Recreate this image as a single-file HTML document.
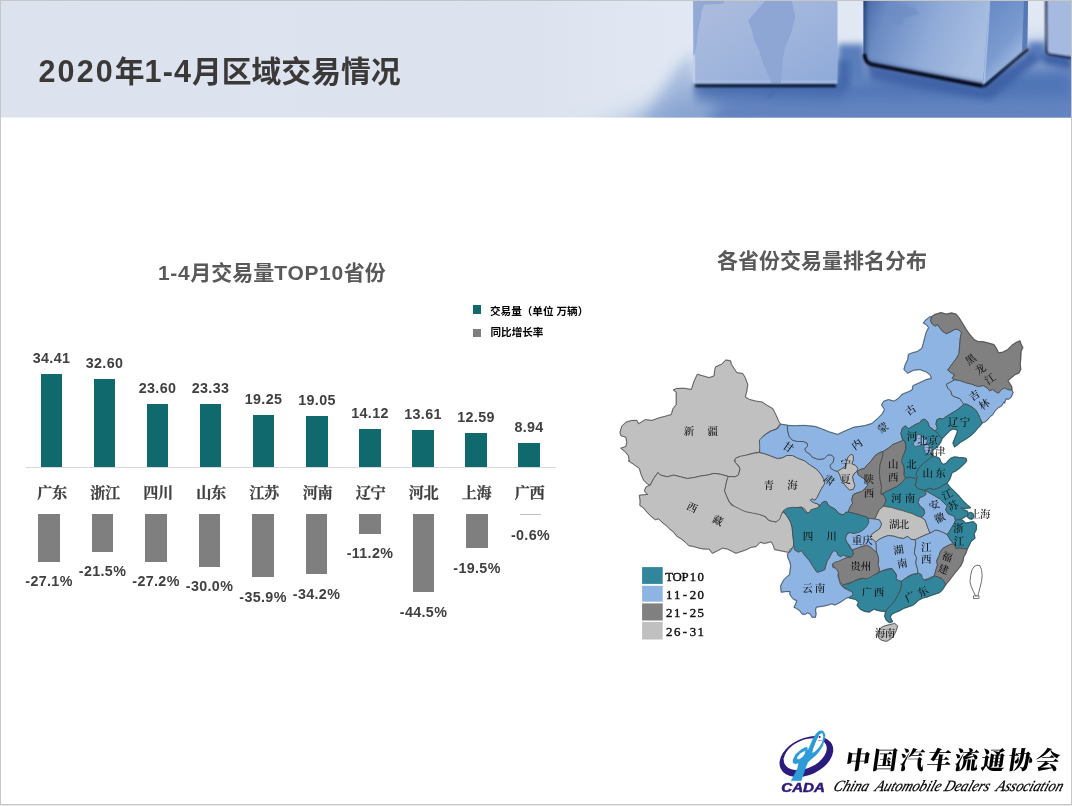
<!DOCTYPE html>
<html lang="zh-CN">
<head>
<meta charset="utf-8">
<title>2020年1-4月区域交易情况</title>
<style>
html,body{margin:0;padding:0;background:#fff;}
body{width:1072px;height:806px;position:relative;overflow:hidden;font-family:"Liberation Sans","Noto Sans CJK SC",sans-serif;}
#slide{position:absolute;left:0;top:0;width:1072px;height:806px;background:#fff;overflow:hidden;}
#hdr{position:absolute;left:0;top:0;}
#title{position:absolute;left:38.5px;top:51px;font-size:29.8px;font-weight:bold;color:#3b3838;white-space:nowrap;line-height:40px;}
.ct{position:absolute;font-weight:bold;color:#595959;white-space:nowrap;font-size:21px;line-height:28px;}
.vl{position:absolute;width:70px;text-align:center;font-weight:bold;font-size:14.3px;line-height:16px;color:#404040;white-space:nowrap;letter-spacing:0.35px;}
.cat{position:absolute;width:70px;text-align:center;font-family:"Liberation Serif","Noto Serif CJK SC",serif;font-weight:bold;font-size:15.2px;line-height:18px;color:#404040;white-space:nowrap;letter-spacing:-0.5px;-webkit-text-stroke:0.25px #404040;}
.tb{position:absolute;background:#0f696d;width:21.6px;}
.gb{position:absolute;background:#7f7f7f;width:21.6px;top:513.8px;}
.lg{position:absolute;font-size:10.6px;font-weight:bold;color:#000;white-space:nowrap;line-height:12px;}
.bd{position:absolute;background:#c6c6c6;}
#map{position:absolute;left:0;top:0;}
#logo{position:absolute;left:0;top:0;}
.l1{letter-spacing:2.1px;font-size:30.5px;}
.l2{letter-spacing:0.65px;}
</style>
</head>
<body>
<div id="slide">
<svg id="hdr" width="1072" height="118" viewBox="0 0 1072 118">
<defs>
<clipPath id="c2c"><path d="M863.5,0 L989,0 L983,84.5 L871,63.5 Q863.5,61.5 863.5,54 Z"/></clipPath>
<filter id="bl2" x="-10%" y="-50%" width="120%" height="200%"><feGaussianBlur stdDeviation="2.2"/></filter>
<clipPath id="hc"><rect x="0" y="0" width="1072" height="117.5"/></clipPath>
<filter id="bl14" x="-30%" y="-60%" width="160%" height="220%"><feGaussianBlur stdDeviation="14"/></filter>
<filter id="bl8" x="-30%" y="-60%" width="160%" height="220%"><feGaussianBlur stdDeviation="7"/></filter>
<filter id="bl3" x="-30%" y="-60%" width="160%" height="220%"><feGaussianBlur stdDeviation="3"/></filter>
<filter id="bl1" x="-10%" y="-100%" width="120%" height="300%"><feGaussianBlur stdDeviation="0.8"/></filter>
<filter id="bl05" x="-10%" y="-10%" width="120%" height="120%"><feGaussianBlur stdDeviation="0.6"/></filter>
<linearGradient id="bgL" x1="0" y1="0" x2="1" y2="0">
<stop offset="0" stop-color="#dde3ee"/><stop offset="0.5" stop-color="#dce3ef"/><stop offset="0.62" stop-color="#e1e8f3"/><stop offset="1" stop-color="#e2e9f5"/>
</linearGradient>
<linearGradient id="c1" x1="0" y1="0" x2="1" y2="1">
<stop offset="0" stop-color="#adbcde"/><stop offset="0.5" stop-color="#a0b5dc"/><stop offset="1" stop-color="#8eaad9"/>
</linearGradient>
<linearGradient id="c2f" x1="0" y1="0" x2="1" y2="0.25">
<stop offset="0" stop-color="#2b4884"/><stop offset="0.04" stop-color="#4d6eac"/><stop offset="0.2" stop-color="#6b8bc3"/><stop offset="0.6" stop-color="#90abd8"/><stop offset="1" stop-color="#a7bde1"/>
</linearGradient>
<linearGradient id="c2r" x1="0" y1="0" x2="0.6" y2="1">
<stop offset="0" stop-color="#6487c4"/><stop offset="0.6" stop-color="#7b9bd0"/><stop offset="1" stop-color="#b4c8e8"/>
</linearGradient>
<linearGradient id="sh1" x1="0" y1="0" x2="0" y2="1">
<stop offset="0" stop-color="#3a5fa4"/><stop offset="1" stop-color="#5a7ebb" stop-opacity="0"/>
</linearGradient>
</defs>
<g clip-path="url(#hc)">
<rect x="0" y="0" width="1072" height="118" fill="url(#bgL)"/>
<!-- blue floor -->
<polygon points="575,145 650,114 705,84 840,66 1072,44 1100,44 1100,145" fill="#8aa5d3" filter="url(#bl14)"/>
<polygon points="690,145 722,100 840,86 1072,72 1100,72 1100,145" fill="#6384c0" filter="url(#bl8)"/>
<polygon points="700,86 1072,68 1072,97 705,99" fill="#4a6fb2" filter="url(#bl8)" opacity="0.75"/>
<polygon points="838,44 864,44 866,84 838,84" fill="#5a7ebc" filter="url(#bl3)"/>
<polygon points="838,60 850,60 850,88 838,88" fill="#3f64a8" filter="url(#bl3)" opacity="0.8"/>
<polygon points="1028,42 1046,42 1046,62 1028,62" fill="#5a7ebc" filter="url(#bl3)"/>
<polygon points="640,125 676,70 694,52 694,125" fill="#7f9dce" opacity="0.55" filter="url(#bl8)"/>
<!-- cube 1 shadow -->
<rect x="694" y="84" width="150" height="26" fill="url(#sh1)" filter="url(#bl3)"/>
<!-- cube 1 -->
<rect x="693" y="0" width="144.5" height="84.5" rx="2" fill="url(#c1)"/>
<rect x="693" y="0" width="2.2" height="83" fill="#c3d1ea" opacity="0.9"/>
<rect x="694" y="80.5" width="142" height="3" fill="#b0c4e6" opacity="0.55" filter="url(#bl05)"/>
<polygon points="764.9,1 754.6,13.1 748.1,20.5 751.8,29.9 753.7,39.2 759.3,50.4 762.1,61.6 766.8,71.8 771.4,83 780.7,83 782.2,70.9 782.6,59.7 785.4,46.6 791,33.6 795.3,16.8 791.9,1" fill="#8ca5d3" opacity="0.9" filter="url(#bl05)"/>
<polygon points="693,1 724.8,1 722.9,3.7 704.3,4.7 701.5,11.2 700.5,20.5 697.7,31.7 696.8,42.9 694.9,54.1 693.4,56" fill="#8ca5d3" opacity="0.8" filter="url(#bl05)"/>
<polygon points="771,88 778,88 772,97 767,100" fill="#456aac" opacity="0.5" filter="url(#bl1)"/>
<rect x="695" y="84.3" width="141" height="2.8" fill="#050d26" filter="url(#bl1)"/>
<!-- cube 2 shadow -->
<polygon points="864,60 982,88 1030,50 1040,60 990,100 870,80" fill="#3c61a5" filter="url(#bl3)" opacity="0.9"/>
<!-- cube 2 -->
<path d="M863.5,0 L989,0 L983,84.5 L871,63.5 Q863.5,61.5 863.5,54 Z" fill="url(#c2f)"/>
<g clip-path="url(#c2c)"><path d="M862,0 L862,58 Q863,65 871,66 L984,87" stroke="#1a3266" stroke-width="7" fill="none" filter="url(#bl2)" opacity="0.75"/></g>
<path d="M989,0 L1028,0 L1027.3,47 L984.5,84 Q983,85 983,84.5 Z" fill="url(#c2r)"/>
<path d="M984,84 L988,30 L989.5,0" stroke="#b9cceb" stroke-width="1.6" fill="none" opacity="0.7" filter="url(#bl05)"/>
<path d="M1024,0 L1028,0 L1027.3,47 L1022,51 Z" fill="#4d70af" opacity="0.8" filter="url(#bl05)"/>
<polygon points="884,4 900,3 915,8 920,14 905,18 900,26 893,24 888,14" fill="#6a8bc2" opacity="0.55" filter="url(#bl1)"/>
<path d="M864.5,54 Q864.5,62 871,64.3 L982.5,86" stroke="#02060f" stroke-width="3.4" fill="none" filter="url(#bl1)"/>
<path d="M982.5,86 Q984,86.5 986,85 L1028,49" stroke="#050d24" stroke-width="2.4" fill="none" filter="url(#bl1)"/>
<path d="M864,0 L864,56" stroke="#1c3266" stroke-width="1.2" fill="none" filter="url(#bl05)"/>
<!-- cube 3 -->
<polygon points="1040,52 1072,56 1072,70 1044,64" fill="#3c61a5" filter="url(#bl3)"/>
<polygon points="1046,0 1072,0 1072,57.5 1047.5,54" fill="#a6badf"/>
<path d="M1046,0 L1046.3,50 Q1046.5,54 1050,54.6 L1072,58" stroke="#0c1a3e" stroke-width="1.8" fill="none" filter="url(#bl1)"/>
</g>
</svg>
<div id="title"><span class="l1">2020</span>年<span class="l1" style="letter-spacing:1.1px">1-4</span>月区域交易情况</div>
<div class="ct" style="left:158px;top:259px;"><span class="l2">1-4</span>月交易量<span class="l2">TOP10</span>省份</div>
<div class="ct" style="left:717px;top:247px;">各省份交易量排名分布</div>
<div style="position:absolute;left:473px;top:305px;width:8px;height:9px;background:#0f696d;"></div>
<div class="lg" style="left:490px;top:305.3px;">交易量（单位 万辆）</div>
<div style="position:absolute;left:473px;top:329px;width:8px;height:8px;background:#7f7f7f;"></div>
<div class="lg" style="left:490.5px;top:326px;">同比增长率</div>
<div style="position:absolute;left:25.5px;top:467px;width:530px;height:1px;background:#d9d9d9;"></div>
<div class="tb" style="left:41px;top:374px;width:21px;height:93px;"></div>
<div class="vl" style="left:16.5px;top:349.7px;">34.41</div>
<div class="cat" style="left:16.9px;top:484px;">广东</div>
<div class="gb" style="left:38px;top:514px;width:22px;height:48px;"></div>
<div class="vl" style="left:14.0px;top:573.2px;">-27.1%</div>
<div class="tb" style="left:94px;top:379px;width:21px;height:88px;"></div>
<div class="vl" style="left:69.5px;top:354.7px;">32.60</div>
<div class="cat" style="left:69.9px;top:484px;">浙江</div>
<div class="gb" style="left:92px;top:514px;width:21px;height:38px;"></div>
<div class="vl" style="left:67.5px;top:563.3px;">-21.5%</div>
<div class="tb" style="left:147px;top:404px;width:21px;height:63px;"></div>
<div class="vl" style="left:122.5px;top:379.7px;">23.60</div>
<div class="cat" style="left:122.9px;top:484px;">四川</div>
<div class="gb" style="left:145px;top:514px;width:22px;height:48px;"></div>
<div class="vl" style="left:121.0px;top:573.3px;">-27.2%</div>
<div class="tb" style="left:200px;top:404px;width:21px;height:63px;"></div>
<div class="vl" style="left:175.5px;top:379.7px;">23.33</div>
<div class="cat" style="left:175.9px;top:484px;">山东</div>
<div class="gb" style="left:199px;top:514px;width:21px;height:53px;"></div>
<div class="vl" style="left:174.5px;top:578.2px;">-30.0%</div>
<div class="tb" style="left:253px;top:415px;width:21px;height:52px;"></div>
<div class="vl" style="left:228.5px;top:390.7px;">19.25</div>
<div class="cat" style="left:228.9px;top:484px;">江苏</div>
<div class="gb" style="left:252px;top:514px;width:22px;height:63px;"></div>
<div class="vl" style="left:228.0px;top:588.6px;">-35.9%</div>
<div class="tb" style="left:306px;top:416px;width:22px;height:51px;"></div>
<div class="vl" style="left:282.0px;top:391.7px;">19.05</div>
<div class="cat" style="left:282.4px;top:484px;">河南</div>
<div class="gb" style="left:306px;top:514px;width:21px;height:60px;"></div>
<div class="vl" style="left:281.5px;top:585.6px;">-34.2%</div>
<div class="tb" style="left:359px;top:429px;width:22px;height:38px;"></div>
<div class="vl" style="left:335.0px;top:404.7px;">14.12</div>
<div class="cat" style="left:335.4px;top:484px;">辽宁</div>
<div class="gb" style="left:359px;top:514px;width:22px;height:20px;"></div>
<div class="vl" style="left:335.0px;top:545.3px;">-11.2%</div>
<div class="tb" style="left:412px;top:430px;width:22px;height:37px;"></div>
<div class="vl" style="left:388.0px;top:405.7px;">13.61</div>
<div class="cat" style="left:388.4px;top:484px;">河北</div>
<div class="gb" style="left:413px;top:514px;width:21px;height:78px;"></div>
<div class="vl" style="left:388.5px;top:603.7px;">-44.5%</div>
<div class="tb" style="left:465px;top:433px;width:22px;height:34px;"></div>
<div class="vl" style="left:441.0px;top:408.7px;">12.59</div>
<div class="cat" style="left:441.4px;top:484px;">上海</div>
<div class="gb" style="left:466px;top:514px;width:22px;height:34px;"></div>
<div class="vl" style="left:442.0px;top:559.8px;">-19.5%</div>
<div class="tb" style="left:518px;top:443px;width:22px;height:24px;"></div>
<div class="vl" style="left:494.0px;top:418.7px;">8.94</div>
<div class="cat" style="left:494.4px;top:484px;">广西</div>
<div style="position:absolute;left:520px;top:514px;width:21px;height:1px;background:#bfbfbf;"></div>
<div class="vl" style="left:495.5px;top:526.7px;">-0.6%</div>
<svg id="map" width="1072" height="806" viewBox="0 0 1072 806">
<g stroke-linejoin="round">
<path d="M620.1,432.3 L621.8,426.4 L626.0,422.2 L631.8,420.5 L636.9,420.5 L638.5,423.9 L645.3,419.7 L652.0,420.5 L658.7,418.0 L665.4,416.3 L671.3,414.6 L673.0,408.8 L676.3,404.6 L676.3,397.9 L676.3,392.0 L673.5,390.0 L676.3,388.6 L683.9,388.3 L691.4,389.5 L693.9,381.9 L697.3,374.3 L703.2,376.0 L709.1,377.7 L714.1,376.0 L714.9,369.3 L715.8,366.8 L721.7,364.3 L725.8,360.1 L730.6,360.9 L731.2,364.3 L735.1,370.1 L736.8,372.7 L742.6,373.5 L745.2,377.7 L747.7,384.4 L746.8,391.1 L745.2,397.0 L749.4,399.5 L756.1,401.2 L761.9,402.0 L767.0,405.4 L772.9,408.8 L776.2,415.5 L778.7,421.4 L780.4,423.9 L776.2,428.9 L769.5,431.4 L763.6,435.6 L759.9,440.7 L760.3,447.4 L759.4,452.1 L752.7,453.3 L744.3,455.8 L736.8,457.5 L734.2,460.8 L736.8,464.2 L740.1,468.4 L738.4,475.1 L735.1,476.8 L728.4,476.5 L720.8,474.3 L714.1,473.4 L707.4,475.1 L700.7,476.0 L693.9,477.6 L687.2,478.5 L680.5,476.8 L673.8,475.1 L667.1,476.8 L660.4,475.1 L657.9,472.6 L653.7,478.5 L650.3,485.2 L647.8,484.3 L643.6,480.1 L641.1,474.3 L639.4,468.4 L633.5,464.2 L628.5,460.8 L629.3,460.8 L628.5,455.8 L625.1,451.6 L620.9,448.2 L626.0,446.5 L626.8,442.3 L626.0,437.3 L620.9,435.6Z" fill="#c0c0c0" stroke="#c0c0c0" stroke-width="1.6"/>
<path d="M650.3,485.2 L653.7,478.5 L657.9,472.6 L660.4,475.1 L667.1,476.8 L673.8,475.1 L680.5,476.8 L687.2,478.5 L693.9,477.6 L700.7,476.0 L707.4,475.1 L714.1,473.4 L720.8,474.3 L728.4,476.5 L727.5,478.5 L726.7,481.0 L725.8,485.2 L724.7,491.1 L726.7,496.1 L729.2,502.0 L731.7,505.3 L737.6,507.0 L744.3,509.5 L751.0,512.0 L757.8,513.7 L764.5,516.2 L768.7,520.4 L776.2,522.1 L778.7,518.8 L781.3,514.6 L782.9,512.0 L784.6,513.1 L787.6,516.9 L790.6,522.1 L792.1,527.3 L792.8,534.8 L793.6,542.2 L793.6,547.5 L790.2,549.0 L789.1,552.3 L785.7,551.8 L780.2,550.6 L774.6,549.5 L773.4,545.6 L771.2,541.7 L764.5,543.4 L760.0,542.2 L756.1,546.5 L751.0,547.3 L746.0,549.8 L741.0,551.5 L735.9,553.2 L732.6,551.5 L727.5,549.0 L722.5,548.1 L717.5,550.7 L712.4,553.2 L709.1,549.0 L704.0,549.0 L699.0,548.1 L693.9,546.5 L688.9,545.6 L685.6,542.3 L681.4,538.9 L677.2,536.4 L673.8,532.2 L669.6,528.8 L666.2,525.5 L662.0,522.1 L658.7,518.8 L655.3,519.6 L651.1,516.2 L646.9,512.0 L643.6,507.9 L639.9,505.3 L640.2,501.1 L639.4,495.3 L647.8,494.4 L644.4,491.1 L646.1,486.9Z" fill="#c0c0c0" stroke="#c0c0c0" stroke-width="1.6"/>
<path d="M759.7,452.5 L765.7,454.0 L771.6,456.3 L777.6,458.5 L782.1,457.8 L786.6,455.5 L792.5,455.5 L798.5,458.5 L804.5,460.7 L810.4,465.2 L816.4,469.0 L820.9,474.2 L823.9,479.4 L824.6,483.9 L821.6,488.4 L819.4,492.8 L817.2,497.3 L814.9,500.3 L811.9,498.8 L810.4,500.3 L813.4,502.5 L817.9,504.0 L819.4,507.8 L816.4,508.5 L813.4,509.3 L811.2,512.2 L807.5,513.0 L804.5,508.5 L801.5,507.0 L795.5,507.8 L789.6,509.3 L782.8,511.5 L781.3,514.5 L779.9,519.0 L776.1,521.9 L771.6,521.2 L767.9,519.7 L765.7,516.7 L759.7,514.5 L752.2,513.0 L744.8,511.5 L738.8,508.5 L734.3,506.3 L729.3,501.9 L726.7,496.1 L724.6,491.0 L725.8,485.2 L726.7,481.0 L727.5,478.5 L728.4,476.5 L735.1,476.8 L738.4,475.1 L740.1,469.2 L738.8,466.0 L735.1,462.2 L735.1,458.5 L740.3,456.3 L747.8,454.8 L753.7,453.3Z" fill="#c0c0c0" stroke="#c0c0c0" stroke-width="1.6"/>
<path d="M780.6,424.2 L787.3,425.2 L787.6,430.3 L789.1,436.3 L792.1,440.0 L797.3,441.5 L803.3,441.5 L807.0,443.0 L807.8,446.0 L804.8,449.0 L806.3,451.9 L810.0,454.2 L812.2,457.2 L818.2,459.4 L824.2,458.7 L827.9,454.9 L831.6,454.9 L834.2,457.9 L833.1,462.4 L830.1,465.4 L830.9,468.4 L834.6,470.6 L837.6,471.3 L839.9,475.1 L841.3,479.6 L843.6,483.3 L846.6,487.0 L849.6,490.0 L853.3,489.3 L854.8,485.5 L853.3,481.0 L852.5,476.6 L854.0,473.6 L857.0,471.3 L858.5,475.1 L863.0,478.1 L866.7,481.0 L867.5,485.5 L864.5,489.3 L861.5,491.5 L857.0,493.0 L853.3,494.5 L851.8,499.0 L852.5,503.4 L849.6,507.9 L848.4,512.0 L845.6,512.4 L843.7,514.8 L840.9,514.3 L838.1,512.9 L836.2,510.1 L833.4,508.2 L830.6,506.8 L827.8,504.5 L826.9,502.2 L825.0,501.2 L822.2,502.6 L820.4,505.4 L817.9,504.0 L813.4,502.5 L810.4,500.3 L811.9,498.8 L814.9,500.3 L817.2,497.3 L819.4,492.8 L821.6,488.4 L824.6,483.9 L823.9,479.4 L820.9,474.2 L816.4,469.0 L810.4,465.2 L804.5,460.7 L798.5,458.5 L792.5,455.5 L786.6,455.5 L782.1,457.8 L777.6,458.5 L771.6,456.3 L765.7,454.0 L759.7,452.5 L759.7,446.6 L759.4,439.9 L761.9,437.6 L766.4,433.9 L771.6,430.9 L777.6,428.7Z" fill="#8db4e2" stroke="#8db4e2" stroke-width="1.6"/>
<path d="M787.6,425.5 L794.3,425.8 L804.8,425.5 L815.2,426.6 L821.2,428.8 L828.7,431.8 L837.6,434.5 L845.1,431.0 L854.0,427.3 L864.5,425.8 L871.9,423.6 L877.9,418.4 L882.4,413.9 L884.6,409.4 L881.6,404.9 L883.9,401.2 L888.4,399.7 L894.3,401.2 L898.8,398.2 L901.8,394.5 L909.3,391.5 L912.2,390.0 L913.0,385.8 L919.7,382.8 L925.7,379.9 L931.6,378.4 L930.1,374.6 L925.7,371.6 L919.7,369.4 L913.7,370.1 L907.8,373.1 L904.0,369.4 L905.5,364.2 L907.8,359.7 L908.5,354.5 L912.2,353.0 L917.5,351.5 L921.9,348.5 L923.4,343.3 L924.9,337.3 L926.4,332.1 L928.7,327.6 L926.4,324.6 L923.4,323.1 L925.7,320.1 L929.4,317.2 L931.3,316.7 L930.6,320.9 L932.1,323.9 L935.1,326.1 L937.3,324.6 L939.6,327.6 L942.5,331.3 L946.3,333.6 L951.5,331.3 L955.2,329.1 L959.0,329.9 L961.5,332.8 L960.4,337.3 L959.7,344.8 L959.0,353.7 L956.0,359.0 L951.5,364.9 L947.8,370.1 L951.5,373.1 L954.5,374.6 L952.2,378.4 L954.5,379.9 L949.3,382.8 L946.3,384.3 L947.8,388.1 L950.7,391.0 L952.2,395.5 L955.2,397.0 L959.7,398.5 L961.9,401.5 L964.2,403.7 L960.6,407.2 L956.9,410.1 L953.1,412.4 L949.4,414.6 L945.7,416.9 L942.7,419.1 L939.7,418.4 L936.7,419.9 L936.0,424.3 L937.5,428.1 L935.2,431.0 L932.2,428.8 L929.3,426.6 L927.8,422.1 L924.8,419.1 L921.8,419.9 L919.6,422.8 L915.8,424.3 L912.1,426.6 L908.4,428.8 L905.4,425.8 L902.4,428.1 L900.9,433.3 L902.4,439.3 L903.9,440.0 L898.8,442.2 L892.8,444.5 L888.4,448.2 L883.1,451.5 L879.4,452.7 L874.9,455.7 L871.2,460.9 L867.5,464.6 L864.5,468.4 L861.5,469.1 L857.0,471.3 L857.8,468.4 L855.5,465.4 L851.8,463.9 L853.3,460.1 L853.3,455.7 L851.0,454.2 L848.1,457.2 L846.6,461.6 L845.8,466.1 L841.3,469.1 L837.6,471.3 L834.6,470.6 L830.9,468.4 L830.1,465.4 L833.1,462.4 L834.2,457.9 L831.6,454.9 L827.9,454.9 L824.2,458.7 L818.2,459.4 L812.2,457.2 L810.0,454.2 L806.3,451.9 L804.8,449.0 L807.8,446.0 L807.0,443.0 L803.3,441.5 L797.3,441.5 L792.1,440.0 L789.1,436.3 L787.6,430.3Z" fill="#8db4e2" stroke="#8db4e2" stroke-width="1.6"/>
<path d="M931.8,316.7 L935.1,314.5 L941.0,312.7 L946.3,314.2 L951.5,313.1 L956.0,314.2 L959.0,317.9 L962.7,323.9 L966.4,329.9 L970.1,335.1 L973.9,339.6 L977.6,341.5 L982.8,341.8 L988.8,343.3 L994.0,344.8 L996.3,348.5 L998.5,353.0 L1003.0,352.2 L1007.5,350.0 L1011.9,345.5 L1016.4,342.5 L1019.9,341.0 L1020.9,344.0 L1022.7,347.5 L1020.9,351.5 L1020.6,358.2 L1020.1,364.2 L1020.6,369.4 L1018.7,373.1 L1014.9,374.6 L1011.2,377.6 L1007.8,380.6 L1009.7,383.6 L1011.6,386.6 L1011.9,390.3 L1007.5,389.6 L1004.5,388.1 L1001.5,389.6 L998.5,393.3 L995.5,391.8 L992.5,389.6 L989.6,391.0 L988.1,388.8 L983.6,385.8 L977.6,386.6 L971.6,384.3 L965.7,382.8 L959.7,380.6 L954.5,379.9 L952.2,378.4 L954.5,374.6 L951.5,373.1 L947.8,370.1 L951.5,364.9 L956.0,359.0 L959.0,353.7 L959.7,344.8 L960.4,337.3 L961.5,332.8 L959.0,329.9 L955.2,329.1 L951.5,331.3 L946.3,333.6 L942.5,331.3 L939.6,327.6 L937.3,324.6 L935.1,326.1 L932.1,323.9 L930.6,320.9Z" fill="#808080" stroke="#808080" stroke-width="1.6"/>
<path d="M954.5,379.9 L959.7,380.6 L965.7,382.8 L971.6,384.3 L977.6,386.6 L983.6,385.8 L988.1,388.8 L989.6,391.0 L992.5,389.6 L995.5,391.8 L998.5,393.3 L1001.5,389.6 L1004.5,388.1 L1007.5,389.6 L1011.9,390.3 L1013.0,392.5 L1011.2,397.0 L1008.2,399.3 L1006.0,398.5 L1004.5,403.0 L1003.9,401.9 L1001.6,405.7 L997.9,407.9 L994.9,410.9 L992.7,414.6 L989.7,416.9 L987.5,419.9 L984.5,422.1 L982.2,422.8 L980.0,418.4 L978.5,414.6 L976.3,410.9 L973.3,407.9 L969.6,405.7 L966.6,404.2 L963.6,404.2 L961.9,401.5 L959.7,398.5 L955.2,397.0 L952.2,395.5 L950.7,391.0 L947.8,388.1 L946.3,384.3 L949.3,382.8Z" fill="#8db4e2" stroke="#8db4e2" stroke-width="1.6"/>
<path d="M963.6,404.2 L966.6,404.2 L969.6,405.7 L973.3,407.9 L976.3,410.9 L978.5,414.6 L980.0,418.4 L982.2,422.8 L980.0,425.8 L977.0,428.8 L974.0,432.5 L969.6,436.3 L965.1,439.3 L961.3,441.5 L957.6,444.5 L954.6,446.7 L953.1,443.0 L954.6,439.3 L956.1,435.5 L957.6,431.8 L956.9,429.6 L953.1,428.8 L950.1,430.3 L947.2,433.3 L944.2,436.3 L941.9,438.5 L939.7,436.3 L937.5,433.3 L935.2,431.0 L937.5,428.1 L936.0,424.3 L936.7,419.9 L939.7,418.4 L942.7,419.1 L945.7,416.9 L949.4,414.6 L953.1,412.4 L956.9,410.1 L960.6,407.2Z" fill="#31869b" stroke="#31869b" stroke-width="1.6"/>
<path d="M837.6,471.3 L841.3,469.1 L845.8,466.1 L846.6,461.6 L848.1,457.2 L851.0,454.2 L853.3,455.7 L853.3,460.1 L851.8,463.9 L855.5,465.4 L857.8,468.4 L857.0,471.3 L854.0,473.6 L852.5,476.6 L853.3,481.0 L854.8,485.5 L853.3,489.3 L849.6,490.0 L846.6,487.0 L843.6,483.3 L841.3,479.6 L839.9,475.1Z" fill="#c0c0c0" stroke="#c0c0c0" stroke-width="1.6"/>
<path d="M857.0,471.3 L861.5,469.1 L864.5,468.4 L867.5,464.6 L871.2,460.9 L874.9,455.7 L879.4,452.7 L883.1,451.5 L882.4,457.2 L880.1,464.6 L879.4,472.1 L880.1,479.6 L881.6,487.0 L880.9,493.0 L881.6,494.5 L882.4,493.0 L884.6,496.7 L886.1,500.4 L884.6,504.2 L882.4,507.2 L879.4,509.4 L877.2,513.9 L874.9,519.1 L868.2,518.4 L867.0,517.1 L863.3,516.2 L859.6,514.8 L855.8,513.8 L852.1,512.9 L848.4,512.0 L849.6,507.9 L852.5,503.4 L851.8,499.0 L853.3,494.5 L857.0,493.0 L861.5,491.5 L864.5,489.3 L867.5,485.5 L866.7,481.0 L863.0,478.1 L858.5,475.1Z" fill="#808080" stroke="#808080" stroke-width="1.6"/>
<path d="M883.1,451.5 L888.4,448.2 L892.8,444.5 L898.8,442.2 L904.0,440.0 L905.5,443.7 L905.5,449.7 L903.3,455.7 L901.8,461.6 L904.0,467.6 L904.0,473.6 L905.5,478.1 L901.8,482.5 L897.3,486.3 L891.3,489.3 L886.1,491.5 L881.6,494.5 L880.9,493.0 L881.6,487.0 L880.1,479.6 L879.4,472.1 L880.1,464.6 L882.4,457.2Z" fill="#808080" stroke="#808080" stroke-width="1.6"/>
<path d="M935.2,431.0 L932.2,428.8 L929.3,426.6 L927.8,422.1 L924.8,419.1 L921.8,419.9 L919.6,422.8 L915.8,424.3 L912.1,426.6 L908.4,428.8 L905.4,425.8 L902.4,428.1 L900.9,433.3 L902.4,439.3 L903.9,440.0 L905.4,442.2 L906.1,448.2 L904.6,452.7 L902.4,457.2 L901.6,461.6 L903.9,466.1 L904.6,470.6 L903.9,475.1 L905.4,477.3 L909.9,477.3 L913.6,478.1 L916.6,478.8 L918.0,477.2 L916.1,475.3 L916.6,472.5 L918.0,469.7 L919.9,466.9 L922.6,464.1 L925.4,461.8 L928.7,459.4 L931.5,457.1 L932.9,453.8 L932.4,450.1 L933.8,449.2 L937.1,446.8 L939.0,444.5 L940.8,441.7 L941.9,438.5 L939.7,436.3 L937.5,433.3Z" fill="#31869b" stroke="#31869b" stroke-width="1.6"/>
<path d="M917.1,434.3 L920.8,434.7 L922.2,437.1 L925.4,438.0 L927.3,440.8 L926.8,443.6 L924.5,445.0 L921.7,444.5 L918.9,445.9 L915.2,446.4 L913.3,445.0 L913.8,442.2 L916.1,440.8 L916.6,437.5Z" fill="#8db4e2" stroke="#8db4e2" stroke-width="1.6"/>
<path d="M924.0,445.0 L927.3,444.5 L929.2,446.4 L931.0,448.2 L932.4,450.1 L931.5,452.4 L930.1,454.3 L927.3,453.8 L925.0,452.4 L924.0,449.2Z" fill="#8db4e2" stroke="#8db4e2" stroke-width="1.6"/>
<path d="M931.5,457.1 L935.7,456.6 L939.4,458.5 L940.8,462.2 L943.2,464.6 L946.0,463.6 L948.3,460.8 L950.6,458.5 L954.4,457.1 L959.0,457.6 L963.7,458.0 L966.0,458.5 L966.5,460.8 L964.6,463.2 L961.8,466.0 L959.0,468.3 L955.3,471.1 L952.0,472.5 L951.1,475.3 L949.7,479.0 L947.8,481.8 L946.0,484.6 L944.2,484.5 L939.7,487.5 L933.7,489.7 L929.3,488.2 L924.8,490.4 L918.8,489.0 L915.1,486.0 L916.6,478.8 L918.0,477.2 L916.1,475.3 L916.6,472.5 L918.0,469.7 L919.9,466.9 L922.6,464.1 L925.4,461.8 L928.7,459.4Z" fill="#31869b" stroke="#31869b" stroke-width="1.6"/>
<path d="M881.6,494.5 L886.1,491.5 L891.3,489.3 L897.3,486.3 L901.8,482.5 L905.5,478.1 L909.9,477.3 L913.6,478.1 L916.6,478.8 L915.1,486.0 L918.8,489.0 L924.8,490.4 L926.3,494.2 L923.3,496.4 L919.6,497.9 L918.1,502.4 L920.3,506.1 L924.0,509.1 L924.8,512.8 L923.3,515.8 L921.0,517.3 L916.6,515.8 L912.1,513.6 L906.9,512.1 L902.4,510.6 L896.4,509.1 L891.9,507.6 L887.5,506.9 L883.0,506.1 L882.4,507.2 L884.6,504.2 L886.1,500.4 L884.6,496.7 L882.4,493.0Z" fill="#31869b" stroke="#31869b" stroke-width="1.6"/>
<path d="M882.4,507.2 L883.0,506.1 L887.5,506.9 L891.9,507.6 L896.4,509.1 L902.4,510.6 L906.9,512.1 L912.1,513.6 L916.6,515.8 L921.0,517.3 L924.8,519.6 L926.3,523.3 L927.8,527.8 L930.0,533.0 L924.8,535.2 L919.6,537.5 L915.1,539.7 L910.7,539.3 L907.8,536.3 L903.3,538.5 L898.8,537.8 L894.3,536.3 L888.4,535.5 L883.9,537.0 L879.4,539.3 L875.7,542.2 L873.4,540.0 L870.4,537.8 L871.2,534.8 L874.9,531.8 L879.4,528.8 L881.6,524.3 L879.4,519.9 L874.9,519.1 L877.2,513.9 L879.4,509.4Z" fill="#c0c0c0" stroke="#c0c0c0" stroke-width="1.6"/>
<path d="M875.7,542.2 L879.4,539.3 L883.9,537.0 L888.4,535.5 L894.3,536.3 L898.8,537.8 L903.3,538.5 L907.8,536.3 L910.7,539.3 L915.1,539.7 L915.8,542.7 L915.1,547.9 L914.3,553.1 L916.6,557.6 L915.8,562.8 L917.3,568.1 L918.1,573.3 L912.2,574.3 L907.8,576.6 L904.0,579.6 L901.0,581.3 L898.1,580.7 L895.8,578.8 L896.6,575.1 L894.3,571.3 L891.3,568.4 L886.9,569.1 L882.4,570.6 L878.7,572.1 L879.4,569.1 L877.9,564.6 L878.7,560.1 L877.9,555.7 L876.4,551.9 L876.1,546.7Z" fill="#8db4e2" stroke="#8db4e2" stroke-width="1.6"/>
<path d="M930.0,533.0 L933.0,531.5 L935.2,530.0 L939.0,530.7 L942.7,532.2 L947.2,534.5 L950.1,539.7 L953.9,544.2 L950.9,544.2 L947.9,545.7 L943.4,547.9 L940.4,551.6 L939.0,556.1 L936.7,560.6 L937.5,565.1 L936.0,569.6 L934.3,575.8 L931.5,577.0 L927.8,578.5 L924.0,580.0 L921.8,578.5 L919.6,574.8 L918.1,573.3 L917.3,568.1 L915.8,562.8 L916.6,557.6 L914.3,553.1 L915.1,547.9 L915.8,542.7 L915.1,539.7 L919.6,537.5 L924.8,535.2Z" fill="#8db4e2" stroke="#8db4e2" stroke-width="1.6"/>
<path d="M924.8,490.4 L929.3,492.7 L934.5,495.7 L939.7,498.7 L943.4,502.4 L947.2,506.1 L945.7,509.9 L947.9,513.6 L951.6,515.1 L954.6,516.6 L955.4,520.3 L953.9,524.0 L951.6,527.8 L949.4,531.5 L947.2,534.5 L942.7,532.2 L939.0,530.7 L935.2,530.0 L933.0,531.5 L930.0,533.0 L927.8,527.8 L926.3,523.3 L924.8,519.6 L921.0,517.3 L923.3,515.8 L924.8,512.8 L924.0,509.1 L920.3,506.1 L918.1,502.4 L919.6,497.9 L923.3,496.4 L926.3,494.2Z" fill="#8db4e2" stroke="#8db4e2" stroke-width="1.6"/>
<path d="M924.8,490.4 L929.3,488.2 L933.7,489.7 L939.7,487.5 L944.2,484.5 L947.2,483.7 L950.1,487.5 L954.6,491.9 L959.1,496.4 L962.8,500.9 L966.6,504.6 L970.3,507.6 L965.1,508.4 L960.6,507.6 L963.6,509.9 L967.3,511.3 L968.1,513.6 L966.6,515.8 L963.6,517.6 L959.9,519.6 L955.4,520.3 L954.6,516.6 L951.6,515.1 L947.9,513.6 L945.7,509.9 L947.2,506.1 L943.4,502.4 L939.7,498.7 L934.5,495.7 L929.3,492.7Z" fill="#31869b" stroke="#31869b" stroke-width="1.6"/>
<path d="M955.4,520.3 L959.9,519.6 L962.8,520.6 L965.8,523.3 L969.6,522.5 L973.3,521.8 L976.3,524.8 L976.3,529.3 L974.0,533.7 L974.8,538.2 L971.0,541.2 L969.6,544.2 L967.3,548.7 L963.6,548.7 L959.1,547.9 L956.1,548.7 L953.9,544.2 L950.1,539.7 L947.2,534.5 L949.4,531.5 L951.6,527.8 L953.9,524.0Z" fill="#31869b" stroke="#31869b" stroke-width="1.6"/>
<path d="M968.1,513.6 L970.3,512.5 L972.8,513.6 L973.7,516.6 L971.8,519.1 L969.3,518.5 L967.3,516.6Z" fill="#31869b" stroke="#31869b" stroke-width="1.6"/>
<path d="M953.9,544.2 L956.1,548.7 L959.1,547.9 L963.6,548.7 L967.3,548.7 L965.8,553.1 L963.6,556.9 L962.8,561.3 L960.6,565.8 L957.6,569.6 L954.6,573.3 L951.6,577.0 L949.4,580.0 L945.5,584.8 L943.9,581.6 L941.5,578.4 L938.1,577.2 L934.3,575.8 L936.0,569.6 L937.5,565.1 L936.7,560.6 L939.0,556.1 L940.4,551.6 L943.4,547.9 L947.9,545.7 L950.9,544.2Z" fill="#808080" stroke="#808080" stroke-width="1.6"/>
<path d="M901.3,581.6 L904.3,579.1 L908.1,576.9 L912.5,574.6 L917.0,573.9 L918.5,573.1 L921.5,574.6 L922.2,577.6 L924.5,580.6 L927.5,579.9 L931.2,578.4 L934.3,575.8 L938.1,577.2 L941.5,578.4 L943.9,581.6 L945.5,584.8 L942.4,589.6 L939.4,592.5 L934.9,594.0 L930.4,595.5 L926.7,597.0 L923.0,597.8 L918.5,600.0 L915.5,603.0 L912.5,605.2 L908.1,606.7 L903.6,608.2 L899.9,610.4 L896.1,611.9 L891.6,614.2 L890.1,617.2 L891.6,620.1 L892.4,621.6 L889.4,622.4 L886.4,620.1 L884.9,616.4 L885.7,611.2 L887.9,608.2 L891.6,604.5 L894.6,600.7 L897.6,595.5 L899.9,591.0 L901.3,585.8Z" fill="#31869b" stroke="#31869b" stroke-width="1.6"/>
<path d="M840.1,585.8 L844.6,584.3 L849.9,583.6 L855.1,580.6 L860.3,579.1 L866.3,577.6 L871.5,575.4 L876.7,573.9 L879.0,572.4 L882.7,570.9 L887.9,569.4 L892.4,568.7 L894.6,572.4 L896.4,575.4 L896.1,579.1 L899.1,580.6 L901.3,581.6 L901.3,585.8 L899.9,591.0 L897.6,595.5 L894.6,600.7 L891.6,604.5 L887.9,608.2 L885.7,611.2 L882.7,611.2 L878.2,610.4 L873.7,609.0 L869.3,611.9 L864.8,611.2 L860.3,609.0 L857.3,605.2 L858.8,602.2 L855.8,599.3 L852.1,598.5 L849.1,597.8 L852.1,594.8 L852.8,592.5 L848.4,589.6 L843.9,587.3Z" fill="#31869b" stroke="#31869b" stroke-width="1.6"/>
<path d="M852.5,549.7 L857.0,548.2 L863.0,546.0 L867.5,545.2 L871.2,547.5 L874.2,550.4 L876.4,551.9 L877.9,555.7 L878.7,560.1 L877.9,564.6 L879.4,569.1 L878.7,572.1 L874.9,574.3 L870.4,577.3 L866.0,578.8 L861.5,578.1 L857.0,579.6 L852.5,581.8 L848.1,583.3 L843.6,584.8 L840.6,583.3 L839.4,580.3 L838.8,576.6 L837.6,572.1 L835.4,569.1 L833.1,566.1 L832.7,563.1 L835.4,561.3 L839.1,560.1 L842.8,558.7 L847.3,557.5 L851.0,557.2 L853.3,554.2Z" fill="#808080" stroke="#808080" stroke-width="1.6"/>
<path d="M868.2,518.4 L868.2,522.1 L866.0,525.8 L863.0,529.6 L858.5,531.8 L854.0,533.3 L849.6,532.5 L846.6,534.8 L845.1,538.5 L846.6,542.2 L849.6,545.2 L851.0,549.0 L852.5,549.7 L857.0,548.2 L863.0,546.0 L867.5,545.2 L871.2,547.5 L874.2,550.4 L876.4,551.9 L876.1,546.7 L875.7,542.2 L873.4,540.0 L870.4,537.8 L871.2,534.8 L874.9,531.8 L879.4,528.8 L881.6,524.3 L879.4,519.9 L874.9,519.1Z" fill="#8db4e2" stroke="#8db4e2" stroke-width="1.6"/>
<path d="M783.1,511.0 L786.8,508.2 L792.4,507.3 L798.0,507.5 L801.2,507.3 L803.6,510.1 L806.4,513.4 L809.2,512.4 L811.0,509.6 L814.8,508.7 L818.5,507.3 L820.4,505.4 L822.2,502.6 L825.0,501.2 L826.9,502.2 L827.8,504.5 L830.6,506.8 L833.4,508.2 L836.2,510.1 L838.1,512.9 L840.9,514.3 L843.7,514.8 L845.6,512.4 L848.4,512.0 L852.1,512.9 L855.8,513.8 L859.6,514.8 L863.3,516.2 L867.0,517.1 L868.4,519.4 L868.9,522.2 L867.0,526.0 L865.1,528.3 L862.4,530.6 L858.6,532.5 L854.0,533.4 L850.2,532.5 L847.4,533.4 L846.0,536.2 L845.6,539.0 L847.0,542.3 L848.4,545.0 L851.0,549.0 L852.5,549.7 L853.3,554.2 L851.0,557.2 L843.4,555.1 L840.6,556.8 L837.8,555.1 L836.7,551.8 L833.9,550.6 L831.6,553.4 L830.0,556.8 L827.2,561.3 L826.0,565.2 L824.9,569.7 L821.0,571.3 L817.1,572.5 L814.9,569.7 L812.1,565.2 L809.3,560.7 L805.9,556.8 L803.1,553.4 L802.0,550.6 L798.6,552.3 L794.7,550.1 L793.6,545.6 L793.6,542.2 L792.8,534.8 L792.1,527.3 L790.6,522.1 L787.6,516.9 L784.6,513.1Z" fill="#31869b" stroke="#31869b" stroke-width="1.6"/>
<path d="M793.6,545.6 L794.7,550.1 L798.6,552.3 L802.0,550.6 L803.1,553.4 L805.9,556.8 L809.3,560.7 L812.1,565.2 L814.9,569.7 L817.1,572.5 L821.0,571.3 L824.9,569.7 L826.0,565.2 L827.2,561.3 L830.0,556.8 L831.6,553.4 L833.9,550.6 L836.7,551.8 L837.8,555.1 L840.6,556.8 L843.4,555.1 L847.3,557.5 L842.8,559.3 L838.4,561.3 L834.4,562.4 L832.2,564.1 L832.8,567.4 L836.1,568.5 L838.4,572.5 L837.8,575.8 L838.9,579.2 L840.0,583.1 L840.6,584.8 L844.0,588.1 L848.4,590.4 L852.4,592.1 L852.9,594.9 L849.6,597.1 L846.2,598.2 L842.8,600.5 L838.4,603.2 L835.0,604.9 L831.6,603.8 L828.3,604.9 L823.8,606.0 L819.3,606.6 L816.0,607.2 L815.4,610.5 L816.0,613.9 L815.4,617.2 L812.1,617.2 L810.4,613.9 L807.6,612.8 L804.8,614.4 L802.0,613.9 L799.7,610.5 L796.4,608.3 L794.1,607.2 L795.8,603.8 L796.9,600.5 L793.6,599.3 L791.3,596.5 L789.7,593.7 L790.2,591.5 L785.7,591.5 L781.3,592.1 L780.7,585.9 L783.5,580.3 L786.9,576.9 L789.7,574.7 L790.2,570.2 L790.8,565.7 L789.7,561.3 L788.0,557.9 L787.4,554.0 L790.8,551.2Z" fill="#8db4e2" stroke="#8db4e2" stroke-width="1.6"/>
<path d="M884.2,626.1 L890.1,624.6 L894.6,623.4 L897.6,626.1 L896.1,630.6 L893.9,635.1 L890.9,638.8 L886.4,641.3 L881.9,640.3 L879.0,638.1 L877.5,634.3 L879.0,630.6 L881.2,627.6Z" fill="#c0c0c0" stroke="#c0c0c0" stroke-width="1.6"/>
<path d="M620.1,432.3 L621.8,426.4 L626.0,422.2 L631.8,420.5 L636.9,420.5 L638.5,423.9 L645.3,419.7 L652.0,420.5 L658.7,418.0 L665.4,416.3 L671.3,414.6 L673.0,408.8 L676.3,404.6 L676.3,397.9 L676.3,392.0 L673.5,390.0 L676.3,388.6 L683.9,388.3 L691.4,389.5 L693.9,381.9 L697.3,374.3 L703.2,376.0 L709.1,377.7 L714.1,376.0 L714.9,369.3 L715.8,366.8 L721.7,364.3 L725.8,360.1 L730.6,360.9 L731.2,364.3 L735.1,370.1 L736.8,372.7 L742.6,373.5 L745.2,377.7 L747.7,384.4 L746.8,391.1 L745.2,397.0 L749.4,399.5 L756.1,401.2 L761.9,402.0 L767.0,405.4 L772.9,408.8 L776.2,415.5 L778.7,421.4 L780.4,423.9 L776.2,428.9 L769.5,431.4 L763.6,435.6 L759.9,440.7 L760.3,447.4 L759.4,452.1 L752.7,453.3 L744.3,455.8 L736.8,457.5 L734.2,460.8 L736.8,464.2 L740.1,468.4 L738.4,475.1 L735.1,476.8 L728.4,476.5 L720.8,474.3 L714.1,473.4 L707.4,475.1 L700.7,476.0 L693.9,477.6 L687.2,478.5 L680.5,476.8 L673.8,475.1 L667.1,476.8 L660.4,475.1 L657.9,472.6 L653.7,478.5 L650.3,485.2 L647.8,484.3 L643.6,480.1 L641.1,474.3 L639.4,468.4 L633.5,464.2 L628.5,460.8 L629.3,460.8 L628.5,455.8 L625.1,451.6 L620.9,448.2 L626.0,446.5 L626.8,442.3 L626.0,437.3 L620.9,435.6Z" fill="#c0c0c0" stroke="#4a4a4a" stroke-width="0.8"/>
<path d="M650.3,485.2 L653.7,478.5 L657.9,472.6 L660.4,475.1 L667.1,476.8 L673.8,475.1 L680.5,476.8 L687.2,478.5 L693.9,477.6 L700.7,476.0 L707.4,475.1 L714.1,473.4 L720.8,474.3 L728.4,476.5 L727.5,478.5 L726.7,481.0 L725.8,485.2 L724.7,491.1 L726.7,496.1 L729.2,502.0 L731.7,505.3 L737.6,507.0 L744.3,509.5 L751.0,512.0 L757.8,513.7 L764.5,516.2 L768.7,520.4 L776.2,522.1 L778.7,518.8 L781.3,514.6 L782.9,512.0 L784.6,513.1 L787.6,516.9 L790.6,522.1 L792.1,527.3 L792.8,534.8 L793.6,542.2 L793.6,547.5 L790.2,549.0 L789.1,552.3 L785.7,551.8 L780.2,550.6 L774.6,549.5 L773.4,545.6 L771.2,541.7 L764.5,543.4 L760.0,542.2 L756.1,546.5 L751.0,547.3 L746.0,549.8 L741.0,551.5 L735.9,553.2 L732.6,551.5 L727.5,549.0 L722.5,548.1 L717.5,550.7 L712.4,553.2 L709.1,549.0 L704.0,549.0 L699.0,548.1 L693.9,546.5 L688.9,545.6 L685.6,542.3 L681.4,538.9 L677.2,536.4 L673.8,532.2 L669.6,528.8 L666.2,525.5 L662.0,522.1 L658.7,518.8 L655.3,519.6 L651.1,516.2 L646.9,512.0 L643.6,507.9 L639.9,505.3 L640.2,501.1 L639.4,495.3 L647.8,494.4 L644.4,491.1 L646.1,486.9Z" fill="#c0c0c0" stroke="#4a4a4a" stroke-width="0.8"/>
<path d="M759.7,452.5 L765.7,454.0 L771.6,456.3 L777.6,458.5 L782.1,457.8 L786.6,455.5 L792.5,455.5 L798.5,458.5 L804.5,460.7 L810.4,465.2 L816.4,469.0 L820.9,474.2 L823.9,479.4 L824.6,483.9 L821.6,488.4 L819.4,492.8 L817.2,497.3 L814.9,500.3 L811.9,498.8 L810.4,500.3 L813.4,502.5 L817.9,504.0 L819.4,507.8 L816.4,508.5 L813.4,509.3 L811.2,512.2 L807.5,513.0 L804.5,508.5 L801.5,507.0 L795.5,507.8 L789.6,509.3 L782.8,511.5 L781.3,514.5 L779.9,519.0 L776.1,521.9 L771.6,521.2 L767.9,519.7 L765.7,516.7 L759.7,514.5 L752.2,513.0 L744.8,511.5 L738.8,508.5 L734.3,506.3 L729.3,501.9 L726.7,496.1 L724.6,491.0 L725.8,485.2 L726.7,481.0 L727.5,478.5 L728.4,476.5 L735.1,476.8 L738.4,475.1 L740.1,469.2 L738.8,466.0 L735.1,462.2 L735.1,458.5 L740.3,456.3 L747.8,454.8 L753.7,453.3Z" fill="#c0c0c0" stroke="#4a4a4a" stroke-width="0.8"/>
<path d="M780.6,424.2 L787.3,425.2 L787.6,430.3 L789.1,436.3 L792.1,440.0 L797.3,441.5 L803.3,441.5 L807.0,443.0 L807.8,446.0 L804.8,449.0 L806.3,451.9 L810.0,454.2 L812.2,457.2 L818.2,459.4 L824.2,458.7 L827.9,454.9 L831.6,454.9 L834.2,457.9 L833.1,462.4 L830.1,465.4 L830.9,468.4 L834.6,470.6 L837.6,471.3 L839.9,475.1 L841.3,479.6 L843.6,483.3 L846.6,487.0 L849.6,490.0 L853.3,489.3 L854.8,485.5 L853.3,481.0 L852.5,476.6 L854.0,473.6 L857.0,471.3 L858.5,475.1 L863.0,478.1 L866.7,481.0 L867.5,485.5 L864.5,489.3 L861.5,491.5 L857.0,493.0 L853.3,494.5 L851.8,499.0 L852.5,503.4 L849.6,507.9 L848.4,512.0 L845.6,512.4 L843.7,514.8 L840.9,514.3 L838.1,512.9 L836.2,510.1 L833.4,508.2 L830.6,506.8 L827.8,504.5 L826.9,502.2 L825.0,501.2 L822.2,502.6 L820.4,505.4 L817.9,504.0 L813.4,502.5 L810.4,500.3 L811.9,498.8 L814.9,500.3 L817.2,497.3 L819.4,492.8 L821.6,488.4 L824.6,483.9 L823.9,479.4 L820.9,474.2 L816.4,469.0 L810.4,465.2 L804.5,460.7 L798.5,458.5 L792.5,455.5 L786.6,455.5 L782.1,457.8 L777.6,458.5 L771.6,456.3 L765.7,454.0 L759.7,452.5 L759.7,446.6 L759.4,439.9 L761.9,437.6 L766.4,433.9 L771.6,430.9 L777.6,428.7Z" fill="#8db4e2" stroke="#4a4a4a" stroke-width="0.8"/>
<path d="M787.6,425.5 L794.3,425.8 L804.8,425.5 L815.2,426.6 L821.2,428.8 L828.7,431.8 L837.6,434.5 L845.1,431.0 L854.0,427.3 L864.5,425.8 L871.9,423.6 L877.9,418.4 L882.4,413.9 L884.6,409.4 L881.6,404.9 L883.9,401.2 L888.4,399.7 L894.3,401.2 L898.8,398.2 L901.8,394.5 L909.3,391.5 L912.2,390.0 L913.0,385.8 L919.7,382.8 L925.7,379.9 L931.6,378.4 L930.1,374.6 L925.7,371.6 L919.7,369.4 L913.7,370.1 L907.8,373.1 L904.0,369.4 L905.5,364.2 L907.8,359.7 L908.5,354.5 L912.2,353.0 L917.5,351.5 L921.9,348.5 L923.4,343.3 L924.9,337.3 L926.4,332.1 L928.7,327.6 L926.4,324.6 L923.4,323.1 L925.7,320.1 L929.4,317.2 L931.3,316.7 L930.6,320.9 L932.1,323.9 L935.1,326.1 L937.3,324.6 L939.6,327.6 L942.5,331.3 L946.3,333.6 L951.5,331.3 L955.2,329.1 L959.0,329.9 L961.5,332.8 L960.4,337.3 L959.7,344.8 L959.0,353.7 L956.0,359.0 L951.5,364.9 L947.8,370.1 L951.5,373.1 L954.5,374.6 L952.2,378.4 L954.5,379.9 L949.3,382.8 L946.3,384.3 L947.8,388.1 L950.7,391.0 L952.2,395.5 L955.2,397.0 L959.7,398.5 L961.9,401.5 L964.2,403.7 L960.6,407.2 L956.9,410.1 L953.1,412.4 L949.4,414.6 L945.7,416.9 L942.7,419.1 L939.7,418.4 L936.7,419.9 L936.0,424.3 L937.5,428.1 L935.2,431.0 L932.2,428.8 L929.3,426.6 L927.8,422.1 L924.8,419.1 L921.8,419.9 L919.6,422.8 L915.8,424.3 L912.1,426.6 L908.4,428.8 L905.4,425.8 L902.4,428.1 L900.9,433.3 L902.4,439.3 L903.9,440.0 L898.8,442.2 L892.8,444.5 L888.4,448.2 L883.1,451.5 L879.4,452.7 L874.9,455.7 L871.2,460.9 L867.5,464.6 L864.5,468.4 L861.5,469.1 L857.0,471.3 L857.8,468.4 L855.5,465.4 L851.8,463.9 L853.3,460.1 L853.3,455.7 L851.0,454.2 L848.1,457.2 L846.6,461.6 L845.8,466.1 L841.3,469.1 L837.6,471.3 L834.6,470.6 L830.9,468.4 L830.1,465.4 L833.1,462.4 L834.2,457.9 L831.6,454.9 L827.9,454.9 L824.2,458.7 L818.2,459.4 L812.2,457.2 L810.0,454.2 L806.3,451.9 L804.8,449.0 L807.8,446.0 L807.0,443.0 L803.3,441.5 L797.3,441.5 L792.1,440.0 L789.1,436.3 L787.6,430.3Z" fill="#8db4e2" stroke="#4a4a4a" stroke-width="0.8"/>
<path d="M931.8,316.7 L935.1,314.5 L941.0,312.7 L946.3,314.2 L951.5,313.1 L956.0,314.2 L959.0,317.9 L962.7,323.9 L966.4,329.9 L970.1,335.1 L973.9,339.6 L977.6,341.5 L982.8,341.8 L988.8,343.3 L994.0,344.8 L996.3,348.5 L998.5,353.0 L1003.0,352.2 L1007.5,350.0 L1011.9,345.5 L1016.4,342.5 L1019.9,341.0 L1020.9,344.0 L1022.7,347.5 L1020.9,351.5 L1020.6,358.2 L1020.1,364.2 L1020.6,369.4 L1018.7,373.1 L1014.9,374.6 L1011.2,377.6 L1007.8,380.6 L1009.7,383.6 L1011.6,386.6 L1011.9,390.3 L1007.5,389.6 L1004.5,388.1 L1001.5,389.6 L998.5,393.3 L995.5,391.8 L992.5,389.6 L989.6,391.0 L988.1,388.8 L983.6,385.8 L977.6,386.6 L971.6,384.3 L965.7,382.8 L959.7,380.6 L954.5,379.9 L952.2,378.4 L954.5,374.6 L951.5,373.1 L947.8,370.1 L951.5,364.9 L956.0,359.0 L959.0,353.7 L959.7,344.8 L960.4,337.3 L961.5,332.8 L959.0,329.9 L955.2,329.1 L951.5,331.3 L946.3,333.6 L942.5,331.3 L939.6,327.6 L937.3,324.6 L935.1,326.1 L932.1,323.9 L930.6,320.9Z" fill="#808080" stroke="#4a4a4a" stroke-width="0.8"/>
<path d="M954.5,379.9 L959.7,380.6 L965.7,382.8 L971.6,384.3 L977.6,386.6 L983.6,385.8 L988.1,388.8 L989.6,391.0 L992.5,389.6 L995.5,391.8 L998.5,393.3 L1001.5,389.6 L1004.5,388.1 L1007.5,389.6 L1011.9,390.3 L1013.0,392.5 L1011.2,397.0 L1008.2,399.3 L1006.0,398.5 L1004.5,403.0 L1003.9,401.9 L1001.6,405.7 L997.9,407.9 L994.9,410.9 L992.7,414.6 L989.7,416.9 L987.5,419.9 L984.5,422.1 L982.2,422.8 L980.0,418.4 L978.5,414.6 L976.3,410.9 L973.3,407.9 L969.6,405.7 L966.6,404.2 L963.6,404.2 L961.9,401.5 L959.7,398.5 L955.2,397.0 L952.2,395.5 L950.7,391.0 L947.8,388.1 L946.3,384.3 L949.3,382.8Z" fill="#8db4e2" stroke="#4a4a4a" stroke-width="0.8"/>
<path d="M963.6,404.2 L966.6,404.2 L969.6,405.7 L973.3,407.9 L976.3,410.9 L978.5,414.6 L980.0,418.4 L982.2,422.8 L980.0,425.8 L977.0,428.8 L974.0,432.5 L969.6,436.3 L965.1,439.3 L961.3,441.5 L957.6,444.5 L954.6,446.7 L953.1,443.0 L954.6,439.3 L956.1,435.5 L957.6,431.8 L956.9,429.6 L953.1,428.8 L950.1,430.3 L947.2,433.3 L944.2,436.3 L941.9,438.5 L939.7,436.3 L937.5,433.3 L935.2,431.0 L937.5,428.1 L936.0,424.3 L936.7,419.9 L939.7,418.4 L942.7,419.1 L945.7,416.9 L949.4,414.6 L953.1,412.4 L956.9,410.1 L960.6,407.2Z" fill="#31869b" stroke="#4a4a4a" stroke-width="0.8"/>
<path d="M837.6,471.3 L841.3,469.1 L845.8,466.1 L846.6,461.6 L848.1,457.2 L851.0,454.2 L853.3,455.7 L853.3,460.1 L851.8,463.9 L855.5,465.4 L857.8,468.4 L857.0,471.3 L854.0,473.6 L852.5,476.6 L853.3,481.0 L854.8,485.5 L853.3,489.3 L849.6,490.0 L846.6,487.0 L843.6,483.3 L841.3,479.6 L839.9,475.1Z" fill="#c0c0c0" stroke="#4a4a4a" stroke-width="0.8"/>
<path d="M857.0,471.3 L861.5,469.1 L864.5,468.4 L867.5,464.6 L871.2,460.9 L874.9,455.7 L879.4,452.7 L883.1,451.5 L882.4,457.2 L880.1,464.6 L879.4,472.1 L880.1,479.6 L881.6,487.0 L880.9,493.0 L881.6,494.5 L882.4,493.0 L884.6,496.7 L886.1,500.4 L884.6,504.2 L882.4,507.2 L879.4,509.4 L877.2,513.9 L874.9,519.1 L868.2,518.4 L867.0,517.1 L863.3,516.2 L859.6,514.8 L855.8,513.8 L852.1,512.9 L848.4,512.0 L849.6,507.9 L852.5,503.4 L851.8,499.0 L853.3,494.5 L857.0,493.0 L861.5,491.5 L864.5,489.3 L867.5,485.5 L866.7,481.0 L863.0,478.1 L858.5,475.1Z" fill="#808080" stroke="#4a4a4a" stroke-width="0.8"/>
<path d="M883.1,451.5 L888.4,448.2 L892.8,444.5 L898.8,442.2 L904.0,440.0 L905.5,443.7 L905.5,449.7 L903.3,455.7 L901.8,461.6 L904.0,467.6 L904.0,473.6 L905.5,478.1 L901.8,482.5 L897.3,486.3 L891.3,489.3 L886.1,491.5 L881.6,494.5 L880.9,493.0 L881.6,487.0 L880.1,479.6 L879.4,472.1 L880.1,464.6 L882.4,457.2Z" fill="#808080" stroke="#4a4a4a" stroke-width="0.8"/>
<path d="M935.2,431.0 L932.2,428.8 L929.3,426.6 L927.8,422.1 L924.8,419.1 L921.8,419.9 L919.6,422.8 L915.8,424.3 L912.1,426.6 L908.4,428.8 L905.4,425.8 L902.4,428.1 L900.9,433.3 L902.4,439.3 L903.9,440.0 L905.4,442.2 L906.1,448.2 L904.6,452.7 L902.4,457.2 L901.6,461.6 L903.9,466.1 L904.6,470.6 L903.9,475.1 L905.4,477.3 L909.9,477.3 L913.6,478.1 L916.6,478.8 L918.0,477.2 L916.1,475.3 L916.6,472.5 L918.0,469.7 L919.9,466.9 L922.6,464.1 L925.4,461.8 L928.7,459.4 L931.5,457.1 L932.9,453.8 L932.4,450.1 L933.8,449.2 L937.1,446.8 L939.0,444.5 L940.8,441.7 L941.9,438.5 L939.7,436.3 L937.5,433.3Z" fill="#31869b" stroke="#4a4a4a" stroke-width="0.8"/>
<path d="M917.1,434.3 L920.8,434.7 L922.2,437.1 L925.4,438.0 L927.3,440.8 L926.8,443.6 L924.5,445.0 L921.7,444.5 L918.9,445.9 L915.2,446.4 L913.3,445.0 L913.8,442.2 L916.1,440.8 L916.6,437.5Z" fill="#8db4e2" stroke="#4a4a4a" stroke-width="0.8"/>
<path d="M924.0,445.0 L927.3,444.5 L929.2,446.4 L931.0,448.2 L932.4,450.1 L931.5,452.4 L930.1,454.3 L927.3,453.8 L925.0,452.4 L924.0,449.2Z" fill="#8db4e2" stroke="#4a4a4a" stroke-width="0.8"/>
<path d="M931.5,457.1 L935.7,456.6 L939.4,458.5 L940.8,462.2 L943.2,464.6 L946.0,463.6 L948.3,460.8 L950.6,458.5 L954.4,457.1 L959.0,457.6 L963.7,458.0 L966.0,458.5 L966.5,460.8 L964.6,463.2 L961.8,466.0 L959.0,468.3 L955.3,471.1 L952.0,472.5 L951.1,475.3 L949.7,479.0 L947.8,481.8 L946.0,484.6 L944.2,484.5 L939.7,487.5 L933.7,489.7 L929.3,488.2 L924.8,490.4 L918.8,489.0 L915.1,486.0 L916.6,478.8 L918.0,477.2 L916.1,475.3 L916.6,472.5 L918.0,469.7 L919.9,466.9 L922.6,464.1 L925.4,461.8 L928.7,459.4Z" fill="#31869b" stroke="#4a4a4a" stroke-width="0.8"/>
<path d="M881.6,494.5 L886.1,491.5 L891.3,489.3 L897.3,486.3 L901.8,482.5 L905.5,478.1 L909.9,477.3 L913.6,478.1 L916.6,478.8 L915.1,486.0 L918.8,489.0 L924.8,490.4 L926.3,494.2 L923.3,496.4 L919.6,497.9 L918.1,502.4 L920.3,506.1 L924.0,509.1 L924.8,512.8 L923.3,515.8 L921.0,517.3 L916.6,515.8 L912.1,513.6 L906.9,512.1 L902.4,510.6 L896.4,509.1 L891.9,507.6 L887.5,506.9 L883.0,506.1 L882.4,507.2 L884.6,504.2 L886.1,500.4 L884.6,496.7 L882.4,493.0Z" fill="#31869b" stroke="#4a4a4a" stroke-width="0.8"/>
<path d="M882.4,507.2 L883.0,506.1 L887.5,506.9 L891.9,507.6 L896.4,509.1 L902.4,510.6 L906.9,512.1 L912.1,513.6 L916.6,515.8 L921.0,517.3 L924.8,519.6 L926.3,523.3 L927.8,527.8 L930.0,533.0 L924.8,535.2 L919.6,537.5 L915.1,539.7 L910.7,539.3 L907.8,536.3 L903.3,538.5 L898.8,537.8 L894.3,536.3 L888.4,535.5 L883.9,537.0 L879.4,539.3 L875.7,542.2 L873.4,540.0 L870.4,537.8 L871.2,534.8 L874.9,531.8 L879.4,528.8 L881.6,524.3 L879.4,519.9 L874.9,519.1 L877.2,513.9 L879.4,509.4Z" fill="#c0c0c0" stroke="#4a4a4a" stroke-width="0.8"/>
<path d="M875.7,542.2 L879.4,539.3 L883.9,537.0 L888.4,535.5 L894.3,536.3 L898.8,537.8 L903.3,538.5 L907.8,536.3 L910.7,539.3 L915.1,539.7 L915.8,542.7 L915.1,547.9 L914.3,553.1 L916.6,557.6 L915.8,562.8 L917.3,568.1 L918.1,573.3 L912.2,574.3 L907.8,576.6 L904.0,579.6 L901.0,581.3 L898.1,580.7 L895.8,578.8 L896.6,575.1 L894.3,571.3 L891.3,568.4 L886.9,569.1 L882.4,570.6 L878.7,572.1 L879.4,569.1 L877.9,564.6 L878.7,560.1 L877.9,555.7 L876.4,551.9 L876.1,546.7Z" fill="#8db4e2" stroke="#4a4a4a" stroke-width="0.8"/>
<path d="M930.0,533.0 L933.0,531.5 L935.2,530.0 L939.0,530.7 L942.7,532.2 L947.2,534.5 L950.1,539.7 L953.9,544.2 L950.9,544.2 L947.9,545.7 L943.4,547.9 L940.4,551.6 L939.0,556.1 L936.7,560.6 L937.5,565.1 L936.0,569.6 L934.3,575.8 L931.5,577.0 L927.8,578.5 L924.0,580.0 L921.8,578.5 L919.6,574.8 L918.1,573.3 L917.3,568.1 L915.8,562.8 L916.6,557.6 L914.3,553.1 L915.1,547.9 L915.8,542.7 L915.1,539.7 L919.6,537.5 L924.8,535.2Z" fill="#8db4e2" stroke="#4a4a4a" stroke-width="0.8"/>
<path d="M924.8,490.4 L929.3,492.7 L934.5,495.7 L939.7,498.7 L943.4,502.4 L947.2,506.1 L945.7,509.9 L947.9,513.6 L951.6,515.1 L954.6,516.6 L955.4,520.3 L953.9,524.0 L951.6,527.8 L949.4,531.5 L947.2,534.5 L942.7,532.2 L939.0,530.7 L935.2,530.0 L933.0,531.5 L930.0,533.0 L927.8,527.8 L926.3,523.3 L924.8,519.6 L921.0,517.3 L923.3,515.8 L924.8,512.8 L924.0,509.1 L920.3,506.1 L918.1,502.4 L919.6,497.9 L923.3,496.4 L926.3,494.2Z" fill="#8db4e2" stroke="#4a4a4a" stroke-width="0.8"/>
<path d="M924.8,490.4 L929.3,488.2 L933.7,489.7 L939.7,487.5 L944.2,484.5 L947.2,483.7 L950.1,487.5 L954.6,491.9 L959.1,496.4 L962.8,500.9 L966.6,504.6 L970.3,507.6 L965.1,508.4 L960.6,507.6 L963.6,509.9 L967.3,511.3 L968.1,513.6 L966.6,515.8 L963.6,517.6 L959.9,519.6 L955.4,520.3 L954.6,516.6 L951.6,515.1 L947.9,513.6 L945.7,509.9 L947.2,506.1 L943.4,502.4 L939.7,498.7 L934.5,495.7 L929.3,492.7Z" fill="#31869b" stroke="#4a4a4a" stroke-width="0.8"/>
<path d="M955.4,520.3 L959.9,519.6 L962.8,520.6 L965.8,523.3 L969.6,522.5 L973.3,521.8 L976.3,524.8 L976.3,529.3 L974.0,533.7 L974.8,538.2 L971.0,541.2 L969.6,544.2 L967.3,548.7 L963.6,548.7 L959.1,547.9 L956.1,548.7 L953.9,544.2 L950.1,539.7 L947.2,534.5 L949.4,531.5 L951.6,527.8 L953.9,524.0Z" fill="#31869b" stroke="#4a4a4a" stroke-width="0.8"/>
<path d="M968.1,513.6 L970.3,512.5 L972.8,513.6 L973.7,516.6 L971.8,519.1 L969.3,518.5 L967.3,516.6Z" fill="#31869b" stroke="#4a4a4a" stroke-width="0.8"/>
<path d="M953.9,544.2 L956.1,548.7 L959.1,547.9 L963.6,548.7 L967.3,548.7 L965.8,553.1 L963.6,556.9 L962.8,561.3 L960.6,565.8 L957.6,569.6 L954.6,573.3 L951.6,577.0 L949.4,580.0 L945.5,584.8 L943.9,581.6 L941.5,578.4 L938.1,577.2 L934.3,575.8 L936.0,569.6 L937.5,565.1 L936.7,560.6 L939.0,556.1 L940.4,551.6 L943.4,547.9 L947.9,545.7 L950.9,544.2Z" fill="#808080" stroke="#4a4a4a" stroke-width="0.8"/>
<path d="M901.3,581.6 L904.3,579.1 L908.1,576.9 L912.5,574.6 L917.0,573.9 L918.5,573.1 L921.5,574.6 L922.2,577.6 L924.5,580.6 L927.5,579.9 L931.2,578.4 L934.3,575.8 L938.1,577.2 L941.5,578.4 L943.9,581.6 L945.5,584.8 L942.4,589.6 L939.4,592.5 L934.9,594.0 L930.4,595.5 L926.7,597.0 L923.0,597.8 L918.5,600.0 L915.5,603.0 L912.5,605.2 L908.1,606.7 L903.6,608.2 L899.9,610.4 L896.1,611.9 L891.6,614.2 L890.1,617.2 L891.6,620.1 L892.4,621.6 L889.4,622.4 L886.4,620.1 L884.9,616.4 L885.7,611.2 L887.9,608.2 L891.6,604.5 L894.6,600.7 L897.6,595.5 L899.9,591.0 L901.3,585.8Z" fill="#31869b" stroke="#4a4a4a" stroke-width="0.8"/>
<path d="M840.1,585.8 L844.6,584.3 L849.9,583.6 L855.1,580.6 L860.3,579.1 L866.3,577.6 L871.5,575.4 L876.7,573.9 L879.0,572.4 L882.7,570.9 L887.9,569.4 L892.4,568.7 L894.6,572.4 L896.4,575.4 L896.1,579.1 L899.1,580.6 L901.3,581.6 L901.3,585.8 L899.9,591.0 L897.6,595.5 L894.6,600.7 L891.6,604.5 L887.9,608.2 L885.7,611.2 L882.7,611.2 L878.2,610.4 L873.7,609.0 L869.3,611.9 L864.8,611.2 L860.3,609.0 L857.3,605.2 L858.8,602.2 L855.8,599.3 L852.1,598.5 L849.1,597.8 L852.1,594.8 L852.8,592.5 L848.4,589.6 L843.9,587.3Z" fill="#31869b" stroke="#4a4a4a" stroke-width="0.8"/>
<path d="M852.5,549.7 L857.0,548.2 L863.0,546.0 L867.5,545.2 L871.2,547.5 L874.2,550.4 L876.4,551.9 L877.9,555.7 L878.7,560.1 L877.9,564.6 L879.4,569.1 L878.7,572.1 L874.9,574.3 L870.4,577.3 L866.0,578.8 L861.5,578.1 L857.0,579.6 L852.5,581.8 L848.1,583.3 L843.6,584.8 L840.6,583.3 L839.4,580.3 L838.8,576.6 L837.6,572.1 L835.4,569.1 L833.1,566.1 L832.7,563.1 L835.4,561.3 L839.1,560.1 L842.8,558.7 L847.3,557.5 L851.0,557.2 L853.3,554.2Z" fill="#808080" stroke="#4a4a4a" stroke-width="0.8"/>
<path d="M868.2,518.4 L868.2,522.1 L866.0,525.8 L863.0,529.6 L858.5,531.8 L854.0,533.3 L849.6,532.5 L846.6,534.8 L845.1,538.5 L846.6,542.2 L849.6,545.2 L851.0,549.0 L852.5,549.7 L857.0,548.2 L863.0,546.0 L867.5,545.2 L871.2,547.5 L874.2,550.4 L876.4,551.9 L876.1,546.7 L875.7,542.2 L873.4,540.0 L870.4,537.8 L871.2,534.8 L874.9,531.8 L879.4,528.8 L881.6,524.3 L879.4,519.9 L874.9,519.1Z" fill="#8db4e2" stroke="#4a4a4a" stroke-width="0.8"/>
<path d="M783.1,511.0 L786.8,508.2 L792.4,507.3 L798.0,507.5 L801.2,507.3 L803.6,510.1 L806.4,513.4 L809.2,512.4 L811.0,509.6 L814.8,508.7 L818.5,507.3 L820.4,505.4 L822.2,502.6 L825.0,501.2 L826.9,502.2 L827.8,504.5 L830.6,506.8 L833.4,508.2 L836.2,510.1 L838.1,512.9 L840.9,514.3 L843.7,514.8 L845.6,512.4 L848.4,512.0 L852.1,512.9 L855.8,513.8 L859.6,514.8 L863.3,516.2 L867.0,517.1 L868.4,519.4 L868.9,522.2 L867.0,526.0 L865.1,528.3 L862.4,530.6 L858.6,532.5 L854.0,533.4 L850.2,532.5 L847.4,533.4 L846.0,536.2 L845.6,539.0 L847.0,542.3 L848.4,545.0 L851.0,549.0 L852.5,549.7 L853.3,554.2 L851.0,557.2 L843.4,555.1 L840.6,556.8 L837.8,555.1 L836.7,551.8 L833.9,550.6 L831.6,553.4 L830.0,556.8 L827.2,561.3 L826.0,565.2 L824.9,569.7 L821.0,571.3 L817.1,572.5 L814.9,569.7 L812.1,565.2 L809.3,560.7 L805.9,556.8 L803.1,553.4 L802.0,550.6 L798.6,552.3 L794.7,550.1 L793.6,545.6 L793.6,542.2 L792.8,534.8 L792.1,527.3 L790.6,522.1 L787.6,516.9 L784.6,513.1Z" fill="#31869b" stroke="#4a4a4a" stroke-width="0.8"/>
<path d="M793.6,545.6 L794.7,550.1 L798.6,552.3 L802.0,550.6 L803.1,553.4 L805.9,556.8 L809.3,560.7 L812.1,565.2 L814.9,569.7 L817.1,572.5 L821.0,571.3 L824.9,569.7 L826.0,565.2 L827.2,561.3 L830.0,556.8 L831.6,553.4 L833.9,550.6 L836.7,551.8 L837.8,555.1 L840.6,556.8 L843.4,555.1 L847.3,557.5 L842.8,559.3 L838.4,561.3 L834.4,562.4 L832.2,564.1 L832.8,567.4 L836.1,568.5 L838.4,572.5 L837.8,575.8 L838.9,579.2 L840.0,583.1 L840.6,584.8 L844.0,588.1 L848.4,590.4 L852.4,592.1 L852.9,594.9 L849.6,597.1 L846.2,598.2 L842.8,600.5 L838.4,603.2 L835.0,604.9 L831.6,603.8 L828.3,604.9 L823.8,606.0 L819.3,606.6 L816.0,607.2 L815.4,610.5 L816.0,613.9 L815.4,617.2 L812.1,617.2 L810.4,613.9 L807.6,612.8 L804.8,614.4 L802.0,613.9 L799.7,610.5 L796.4,608.3 L794.1,607.2 L795.8,603.8 L796.9,600.5 L793.6,599.3 L791.3,596.5 L789.7,593.7 L790.2,591.5 L785.7,591.5 L781.3,592.1 L780.7,585.9 L783.5,580.3 L786.9,576.9 L789.7,574.7 L790.2,570.2 L790.8,565.7 L789.7,561.3 L788.0,557.9 L787.4,554.0 L790.8,551.2Z" fill="#8db4e2" stroke="#4a4a4a" stroke-width="0.8"/>
<path d="M884.2,626.1 L890.1,624.6 L894.6,623.4 L897.6,626.1 L896.1,630.6 L893.9,635.1 L890.9,638.8 L886.4,641.3 L881.9,640.3 L879.0,638.1 L877.5,634.3 L879.0,630.6 L881.2,627.6Z" fill="#c0c0c0" stroke="#4a4a4a" stroke-width="0.8"/>
<path d="M977.0,565.1 L980.0,565.8 L981.5,569.6 L982.2,575.5 L981.5,581.5 L980.0,587.5 L978.5,593.4 L977.8,596.4 L975.5,595.7 L973.3,591.2 L971.0,586.0 L970.0,581.5 L970.6,575.5 L971.8,570.3 L974.0,566.6Z" fill="#ffffff" stroke="#4a4a4a" stroke-width="0.8"/>
</g>
<rect x="973.5" y="596" width="5.5" height="2.6" fill="#fff" stroke="#4a4a4a" stroke-width="0.7"/>
<g font-family='"Liberation Serif","Noto Serif CJK SC",serif' font-weight="500" fill="#111"><text x="688.9" y="431.4" text-anchor="middle" dominant-baseline="central" font-size="10.5">新</text><text x="712.8" y="431.4" text-anchor="middle" dominant-baseline="central" font-size="10.5">疆</text><text x="691.9" y="507.9" text-anchor="middle" dominant-baseline="central" font-size="10.5" transform="rotate(25 691.9 507.9)">西</text><text x="717.8" y="520.8" text-anchor="middle" dominant-baseline="central" font-size="10.5" transform="rotate(25 717.8 520.8)">藏</text><text x="768.7" y="485.4" text-anchor="middle" dominant-baseline="central" font-size="10.5">青</text><text x="792.5" y="485.4" text-anchor="middle" dominant-baseline="central" font-size="10.5">海</text><text x="788.1" y="447.3" text-anchor="middle" dominant-baseline="central" font-size="10.5" transform="rotate(35 788.1 447.3)">甘</text><text x="829.1" y="480.1" text-anchor="middle" dominant-baseline="central" font-size="10.5" transform="rotate(35 829.1 480.1)">肃</text><text x="857.0" y="444.5" text-anchor="middle" dominant-baseline="central" font-size="10.5" transform="rotate(-35 857.0 444.5)">内</text><text x="883.1" y="428.1" text-anchor="middle" dominant-baseline="central" font-size="10.5" transform="rotate(-35 883.1 428.1)">蒙</text><text x="910.7" y="410.1" text-anchor="middle" dominant-baseline="central" font-size="10.5" transform="rotate(-35 910.7 410.1)">古</text><text x="845.8" y="464.6" text-anchor="middle" dominant-baseline="central" font-size="10.5">宁</text><text x="845.5" y="479.6" text-anchor="middle" dominant-baseline="central" font-size="10.5">夏</text><text x="869.0" y="479.6" text-anchor="middle" dominant-baseline="central" font-size="10.5">陕</text><text x="869.0" y="493.0" text-anchor="middle" dominant-baseline="central" font-size="10.5">西</text><text x="893.3" y="464.6" text-anchor="middle" dominant-baseline="central" font-size="10.5">山</text><text x="893.3" y="477.3" text-anchor="middle" dominant-baseline="central" font-size="10.5">西</text><text x="911.9" y="436.6" text-anchor="middle" dominant-baseline="central" font-size="10.5">河</text><text x="911.5" y="464.1" text-anchor="middle" dominant-baseline="central" font-size="10.5">北</text><text x="922.6" y="440.3" text-anchor="middle" dominant-baseline="central" font-size="10.5">北</text><text x="932.9" y="440.3" text-anchor="middle" dominant-baseline="central" font-size="10.5">京</text><text x="929.2" y="451.5" text-anchor="middle" dominant-baseline="central" font-size="10.5">天</text><text x="939.9" y="451.5" text-anchor="middle" dominant-baseline="central" font-size="10.5">津</text><text x="953.1" y="422.1" text-anchor="middle" dominant-baseline="central" font-size="10.5">辽</text><text x="965.1" y="422.1" text-anchor="middle" dominant-baseline="central" font-size="10.5">宁</text><text x="974.6" y="395.5" text-anchor="middle" dominant-baseline="central" font-size="10.5" transform="rotate(-35 974.6 395.5)">吉</text><text x="984.3" y="404.5" text-anchor="middle" dominant-baseline="central" font-size="10.5" transform="rotate(-35 984.3 404.5)">林</text><text x="970.9" y="359.7" text-anchor="middle" dominant-baseline="central" font-size="10.5" transform="rotate(-35 970.9 359.7)">黑</text><text x="980.6" y="369.4" text-anchor="middle" dominant-baseline="central" font-size="10.5" transform="rotate(-35 980.6 369.4)">龙</text><text x="990.3" y="379.1" text-anchor="middle" dominant-baseline="central" font-size="10.5" transform="rotate(-35 990.3 379.1)">江</text><text x="927.8" y="473.6" text-anchor="middle" dominant-baseline="central" font-size="10.5">山</text><text x="940.4" y="473.6" text-anchor="middle" dominant-baseline="central" font-size="10.5">东</text><text x="896.4" y="498.7" text-anchor="middle" dominant-baseline="central" font-size="10.5">河</text><text x="909.9" y="498.7" text-anchor="middle" dominant-baseline="central" font-size="10.5">南</text><text x="947.2" y="494.9" text-anchor="middle" dominant-baseline="central" font-size="10.5" transform="rotate(-25 947.2 494.9)">江</text><text x="953.1" y="506.1" text-anchor="middle" dominant-baseline="central" font-size="10.5" transform="rotate(-25 953.1 506.1)">苏</text><text x="934.5" y="505.4" text-anchor="middle" dominant-baseline="central" font-size="10.5" transform="rotate(-25 934.5 505.4)">安</text><text x="939.7" y="518.1" text-anchor="middle" dominant-baseline="central" font-size="10.5" transform="rotate(-25 939.7 518.1)">徽</text><text x="975.5" y="514.0" text-anchor="middle" dominant-baseline="central" font-size="10.5">上</text><text x="985.2" y="514.0" text-anchor="middle" dominant-baseline="central" font-size="10.5">海</text><text x="958.4" y="528.5" text-anchor="middle" dominant-baseline="central" font-size="10.5">浙</text><text x="959.1" y="541.9" text-anchor="middle" dominant-baseline="central" font-size="10.5">江</text><text x="894.2" y="524.0" text-anchor="middle" dominant-baseline="central" font-size="10.5">湖</text><text x="903.9" y="524.0" text-anchor="middle" dominant-baseline="central" font-size="10.5">北</text><text x="898.7" y="550.1" text-anchor="middle" dominant-baseline="central" font-size="10.5" transform="rotate(-10 898.7 550.1)">湖</text><text x="902.4" y="563.6" text-anchor="middle" dominant-baseline="central" font-size="10.5" transform="rotate(-10 902.4 563.6)">南</text><text x="926.3" y="547.2" text-anchor="middle" dominant-baseline="central" font-size="10.5">江</text><text x="926.3" y="559.9" text-anchor="middle" dominant-baseline="central" font-size="10.5">西</text><text x="947.2" y="556.9" text-anchor="middle" dominant-baseline="central" font-size="10.5" transform="rotate(20 947.2 556.9)">福</text><text x="943.4" y="569.6" text-anchor="middle" dominant-baseline="central" font-size="10.5" transform="rotate(20 943.4 569.6)">建</text><text x="857.0" y="540.7" text-anchor="middle" dominant-baseline="central" font-size="10.5">重</text><text x="867.5" y="540.7" text-anchor="middle" dominant-baseline="central" font-size="10.5">庆</text><text x="808.1" y="536.0" text-anchor="middle" dominant-baseline="central" font-size="10.5">四</text><text x="831.6" y="536.0" text-anchor="middle" dominant-baseline="central" font-size="10.5">川</text><text x="855.5" y="566.9" text-anchor="middle" dominant-baseline="central" font-size="10.5">贵</text><text x="866.0" y="566.9" text-anchor="middle" dominant-baseline="central" font-size="10.5">州</text><text x="807.6" y="588.1" text-anchor="middle" dominant-baseline="central" font-size="10.5">云</text><text x="820.1" y="588.1" text-anchor="middle" dominant-baseline="central" font-size="10.5">南</text><text x="867.0" y="592.5" text-anchor="middle" dominant-baseline="central" font-size="10.5">广</text><text x="879.0" y="592.5" text-anchor="middle" dominant-baseline="central" font-size="10.5">西</text><text x="910.3" y="597.0" text-anchor="middle" dominant-baseline="central" font-size="10.5" transform="rotate(-30 910.3 597.0)">广</text><text x="923.0" y="591.8" text-anchor="middle" dominant-baseline="central" font-size="10.5" transform="rotate(-30 923.0 591.8)">东</text><text x="880.0" y="633.9" text-anchor="middle" dominant-baseline="central" font-size="10.5">海</text><text x="889.9" y="633.9" text-anchor="middle" dominant-baseline="central" font-size="10.5">南</text></g>
<rect x="642.1" y="567.1" width="20.6" height="16.8" fill="#31869b"/>
<text x="669.2 677.1 685.0 692.9 700.8" y="580.7" text-anchor="middle" font-size="12.8" stroke="#111" stroke-width="0.4" font-family='"Liberation Serif",serif' fill="#111">TOP10</text>
<rect x="642.1" y="585.8" width="20.6" height="15.9" fill="#8db4e2"/>
<text x="669.2 677.1 685.0 692.9 700.8" y="599.0" text-anchor="middle" font-size="12.8" stroke="#111" stroke-width="0.4" font-family='"Liberation Serif",serif' fill="#111">11-20</text>
<rect x="642.1" y="603.4" width="20.6" height="17.1" fill="#808080"/>
<text x="669.2 677.1 685.0 692.9 700.8" y="617.2" text-anchor="middle" font-size="12.8" stroke="#111" stroke-width="0.4" font-family='"Liberation Serif",serif' fill="#111">21-25</text>
<rect x="642.1" y="621.9" width="20.6" height="17.6" fill="#c0c0c0"/>
<text x="669.2 677.1 685.0 692.9 700.8" y="635.9" text-anchor="middle" font-size="12.8" stroke="#111" stroke-width="0.4" font-family='"Liberation Serif",serif' fill="#111">26-31</text>
</svg>
<svg id="logo" width="1072" height="806" viewBox="0 0 1072 806">
<g transform="rotate(-25 806.38 756.60)"><path fill="#2b1b7c" fill-rule="evenodd" d="M777.98,756.60 a28.4,18.3 0 1,0 56.8,0 a28.4,18.3 0 1,0 -56.8,0 Z M783.58,753.90 a22.8,14.0 0 1,0 45.6,0 a22.8,14.0 0 1,0 -45.6,0 Z"/></g>
<path d="M783.19,758.65 L797.51,746.71 L798.53,747.87 L785.23,760.01Z" fill="#fff" opacity="0.75"/>
<path d="M791.03,780.82 L801.26,780.82 L803.65,773.66 L806.04,766.83 L808.08,762.06 L811.83,758.65 L815.93,755.24 L819.34,751.15 L822.75,745.69 L824.45,740.23 L825.14,734.77 L823.77,731.71 L822.07,730.68 L820.02,730.82 L818.66,731.36 L815.93,734.09 L813.20,738.19 L811.15,742.96 L809.11,747.74 L807.74,750.46 L807.06,747.05 L804.33,747.87 L800.92,749.78 L795.46,754.56 L792.87,760.01 L793.08,762.74 L795.46,763.90 L798.53,762.95 L797.51,768.20 L795.46,772.29 L793.42,776.38Z M822.07,733.07 L823.29,736.82 L822.07,742.28 L818.66,747.74 L814.56,751.83 L812.38,752.85 L813.20,749.10 L815.25,743.64 L817.29,738.87 L819.34,734.77Z M805.35,750.46 L800.24,753.19 L796.96,757.29 L797.17,759.33 L799.56,759.13 L802.97,756.74 L805.01,753.53Z" fill="#2c9bd8" fill-rule="evenodd" stroke="#2c9bd8" stroke-width="0.3" stroke-linejoin="round"/>
<path d="M822.07,733.07 L823.29,736.82 L822.07,742.28 L818.66,747.74 L814.56,751.83 L812.38,752.85 L813.20,749.10 L815.25,743.64 L817.29,738.87 L819.34,734.77Z" fill="#fff"/>
<circle cx="819.68" cy="736.96" r="1.0" fill="#2b1b7c"/>
<path d="M817.63,740.23 L821.73,739.96 L821.66,740.78 L817.84,741.05Z" fill="#8a84c0"/>
<text x="0" y="0" transform="translate(781.3 791.8) scale(1.2 1)" font-family='"Liberation Sans",sans-serif' font-weight="bold" font-style="italic" font-size="12.6" fill="#2b1b7c" stroke="#2b1b7c" stroke-width="0.5">CADA</text>
<text x="0" y="0" transform="translate(844.5 769.2) skewX(-8)" font-family='"Liberation Serif","Noto Serif CJK SC",serif' font-weight="900" font-size="24.6" letter-spacing="2.5" fill="#000">中国汽车流通协会</text>
<text x="0" y="0" transform="translate(832.5 790.6) skewX(-20)" font-family='"Liberation Serif",serif' font-style="italic" font-size="15.5" stroke="#000" stroke-width="0.25" textLength="229" lengthAdjust="spacingAndGlyphs" fill="#000" xml:space="preserve">China  Automobile Dealers  Association</text>
</svg>
<div class="bd" style="left:0;top:0;width:1072px;height:1px;"></div>
<div class="bd" style="left:0;top:0;width:1px;height:806px;"></div>
<div class="bd" style="left:1071px;top:0;width:1px;height:806px;"></div>
<div class="bd" style="left:0;top:804px;width:1072px;height:1px;"></div>
<div class="bd" style="left:0;top:805px;width:1072px;height:1px;background:#e9e9e9;"></div>
</div>
</body>
</html>
